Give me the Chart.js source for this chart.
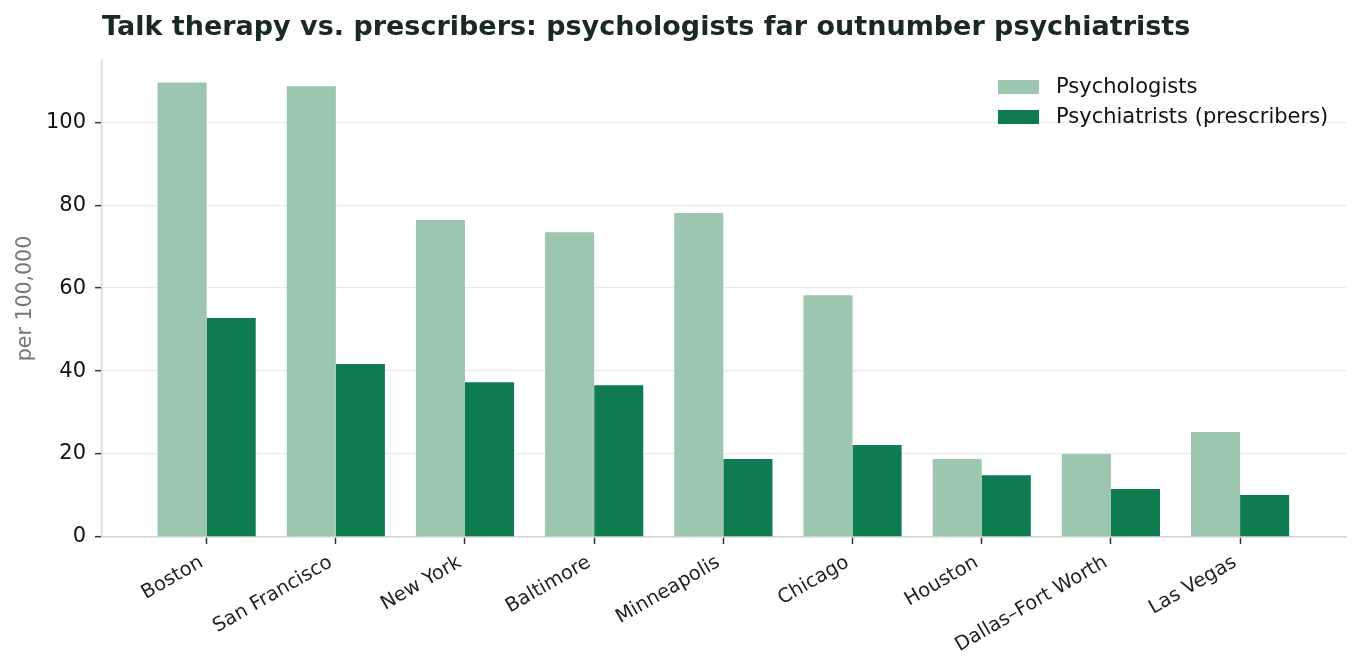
<!DOCTYPE html>
<html>
<head>
<meta charset="utf-8">
<script src="https://cdn.jsdelivr.net/npm/chart.js@4/dist/chart.umd.min.js"></script>
<style>
  html, body { margin: 0; padding: 0; background: #fff; }
  #wrap { width: 1360px; height: 670px; position: relative; }
</style>
</head>
<body>
<div id="wrap"><canvas id="chart"></canvas></div>
<script>
// Psychologists vs psychiatrists per 100,000 residents, by metro area
const cities = ['Boston', 'San Francisco', 'New York', 'Baltimore', 'Minneapolis',
    'Chicago', 'Houston', 'Dallas\u2013Fort Worth', 'Las Vegas'];
const psychologists = [109.6, 108.7, 76.4, 73.5, 78.1, 58.3, 18.8, 20.0, 25.3];
const psychiatrists = [52.8, 41.7, 37.3, 36.6, 18.8, 22.2, 14.9, 11.6, 10.1];
const yTicks = [0, 20, 40, 60, 80, 100];

const FONT = 'DejaVu Sans, sans-serif';
const LIGHT = '#9dc6b0';
const DARK = '#0e7b50';

// Title sits flush with the plot's left edge, so draw it by hand.
const titlePlugin = {
    id: 'leftTitle',
    afterDraw(chart) {
        const { ctx, chartArea } = chart;
        ctx.save();
        ctx.font = 'bold 27px ' + FONT;
        ctx.fillStyle = '#182a22';
        ctx.textAlign = 'left';
        ctx.textBaseline = 'alphabetic';
        ctx.fillText('Talk therapy vs. prescribers: psychologists far outnumber psychiatrists', chartArea.left, 35);
        ctx.restore();
    }
};

// Legend drawn inside the plot, top right, matplotlib-style
const legendPlugin = {
    id: 'innerLegend',
    afterDraw(chart) {
        const { ctx } = chart;
        const x0 = 998, y0 = 87, rowH = 30;
        ctx.save();
        ctx.font = '21px ' + FONT;
        ctx.textBaseline = 'middle';
        ctx.textAlign = 'left';
        chart.data.datasets.forEach((ds, i) => {
            const cy = y0 + i * rowH;
            ctx.fillStyle = ds.backgroundColor;
            ctx.fillRect(x0, cy - 7, 41, 14);
            ctx.fillStyle = '#111';
            ctx.fillText(ds.label, x0 + 58, cy + 1);
        });
        ctx.restore();
    }
};

const ctx = document.getElementById('chart').getContext('2d');
new Chart(ctx, {
    type: 'bar',
    data: {
        datasets: [
            {
                label: 'Psychologists',
                data: psychologists.map((v, i) => ({ x: i, y: v })),
                backgroundColor: LIGHT
            },
            {
                label: 'Psychiatrists (prescribers)',
                data: psychiatrists.map((v, i) => ({ x: i, y: v })),
                backgroundColor: DARK
            }
        ]
    },
    options: {
        responsive: true,
        maintainAspectRatio: false,
        animation: false,
        layout: { padding: { top: 60, right: 14, left: 0, bottom: 0 } },
        datasets: { bar: { categoryPercentage: 0.76, barPercentage: 1.0 } },
        plugins: {
            legend: { display: false },
            title: { display: false },
            tooltip: { enabled: true }
        },
        scales: {
            x: {
                type: 'linear',
                min: -0.81,
                max: 8.82,
                offset: false,
                afterBuildTicks: (s) => { s.ticks = cities.map((_, i) => ({ value: i })); },
                afterFit: (s) => { s.height = 133; },
                ticks: {
                    autoSkip: false,
                    minRotation: 30,
                    maxRotation: 30,
                    padding: 7,
                    labelOffset: -5,
                    color: '#222',
                    font: { family: FONT, size: 19.5 },
                    callback: (v) => cities[v]
                },
                grid: {
                    offset: false,
                    drawOnChartArea: false,
                    tickLength: 7,
                    tickColor: '#333',
                    tickWidth: 1.5
                },
                border: { color: '#d4d6d5', width: 1.5 }
            },
            y: {
                min: 0,
                max: 115,
                afterBuildTicks: (s) => { s.ticks = yTicks.map(v => ({ value: v })); },
                afterFit: (s) => { s.width = 102; },
                ticks: {
                    padding: 9,
                    color: '#111',
                    font: { family: FONT, size: 21 }
                },
                grid: {
                    color: '#e8e9e8',
                    lineWidth: 1.3,
                    tickLength: 7,
                    tickColor: '#333',
                    tickWidth: 1.5
                },
                border: { color: '#d4d6d5', width: 1.5 },
                title: {
                    display: true,
                    text: 'per 100,000',
                    color: '#777',
                    font: { family: FONT, size: 20.5 },
                    padding: { top: 13, bottom: 0 }
                }
            }
        }
    },
    plugins: [titlePlugin, legendPlugin]
});
</script>
</body>
</html>
